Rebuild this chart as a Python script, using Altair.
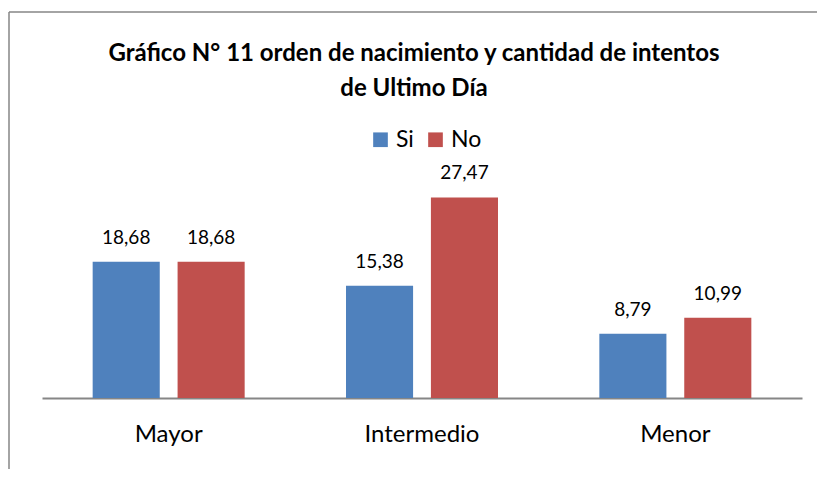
import altair as alt
import pandas as pd

categories = ["Mayor", "Intermedio", "Menor"]
series = ["Si", "No"]
si_values = [18.68, 15.38, 8.79]
no_values = [18.68, 27.47, 10.99]
title_lines = ["Gráfico N° 11 orden de nacimiento y cantidad de intentos", "de Ultimo Día"]
colors = ["#4F81BD", "#C0504D"]

rows = []
for c, s, n in zip(categories, si_values, no_values):
    rows.append({"cat": c, "serie": "Si", "valor": s})
    rows.append({"cat": c, "serie": "No", "valor": n})
df = pd.DataFrame(rows)
df["etiqueta"] = df["valor"].map(lambda v: f"{v:.2f}".replace(".", ","))

FONT = "Lato"
W, H = 760, 219

base = alt.Chart(df).encode(
    x=alt.X(
        "cat:N",
        sort=categories,
        scale=alt.Scale(paddingInner=0.4, paddingOuter=0.2),
        axis=alt.Axis(
            title=None, labelAngle=0, labelFontSize=24, labelFont=FONT,
            labelColor="#000000", labelPadding=24, ticks=False,
            domainColor="#868686", domainWidth=2,
        ),
    ),
    xOffset=alt.XOffset("serie:N", sort=series,
                        scale=alt.Scale(paddingInner=0.21, paddingOuter=0)),
)

bars = base.mark_bar().encode(
    y=alt.Y("valor:Q", scale=alt.Scale(domain=[0, 30], nice=False), axis=None),
    color=alt.Color(
        "serie:N", sort=series,
        scale=alt.Scale(domain=series, range=colors),
        legend=alt.Legend(
            title=None, orient="none", legendX=327, legendY=-51,
            direction="horizontal", symbolType="square", symbolSize=215,
            symbolStrokeWidth=0, labelFontSize=23, labelFont=FONT,
            labelColor="#000000", labelOffset=4, columnPadding=10, padding=0,
        ),
    ),
)

labels = base.mark_text(baseline="middle", dy=-24, fontSize=19, font=FONT,
                        color="#000000").encode(
    y=alt.Y("valor:Q"), text="etiqueta:N"
)

dummy = pd.DataFrame({"a": [0]})
title1 = alt.Chart(pd.DataFrame({"t": [title_lines[0]]})).mark_text(
    font=FONT, fontSize=24, fontWeight="bold", align="center", baseline="middle",
    color="#000000",
).encode(text="t:N", x=alt.value(372), y=alt.value(-125))
title2 = alt.Chart(pd.DataFrame({"t": [title_lines[1]]})).mark_text(
    font=FONT, fontSize=24, fontWeight="bold", align="center", baseline="middle",
    color="#000000",
).encode(text="t:N", x=alt.value(372), y=alt.value(-90))

border_top = alt.Chart(dummy).mark_rule(color="#868686", strokeWidth=1.5).encode(
    x=alt.value(-33), x2=alt.value(780), y=alt.value(-167)
)
border_left = alt.Chart(dummy).mark_rule(color="#868686", strokeWidth=1.5).encode(
    x=alt.value(-33), y=alt.value(-167), y2=alt.value(300)
)

chart = alt.layer(border_top, border_left, bars, labels, title1, title2).properties(
    width=W, height=H,
    autosize=alt.AutoSizeParams(type="none"),
    padding={"left": 34, "top": 171, "right": 15, "bottom": 71},
).configure_view(stroke=None)

chart.save("out.html", embed_options={"renderer": "svg", "actions": False})
